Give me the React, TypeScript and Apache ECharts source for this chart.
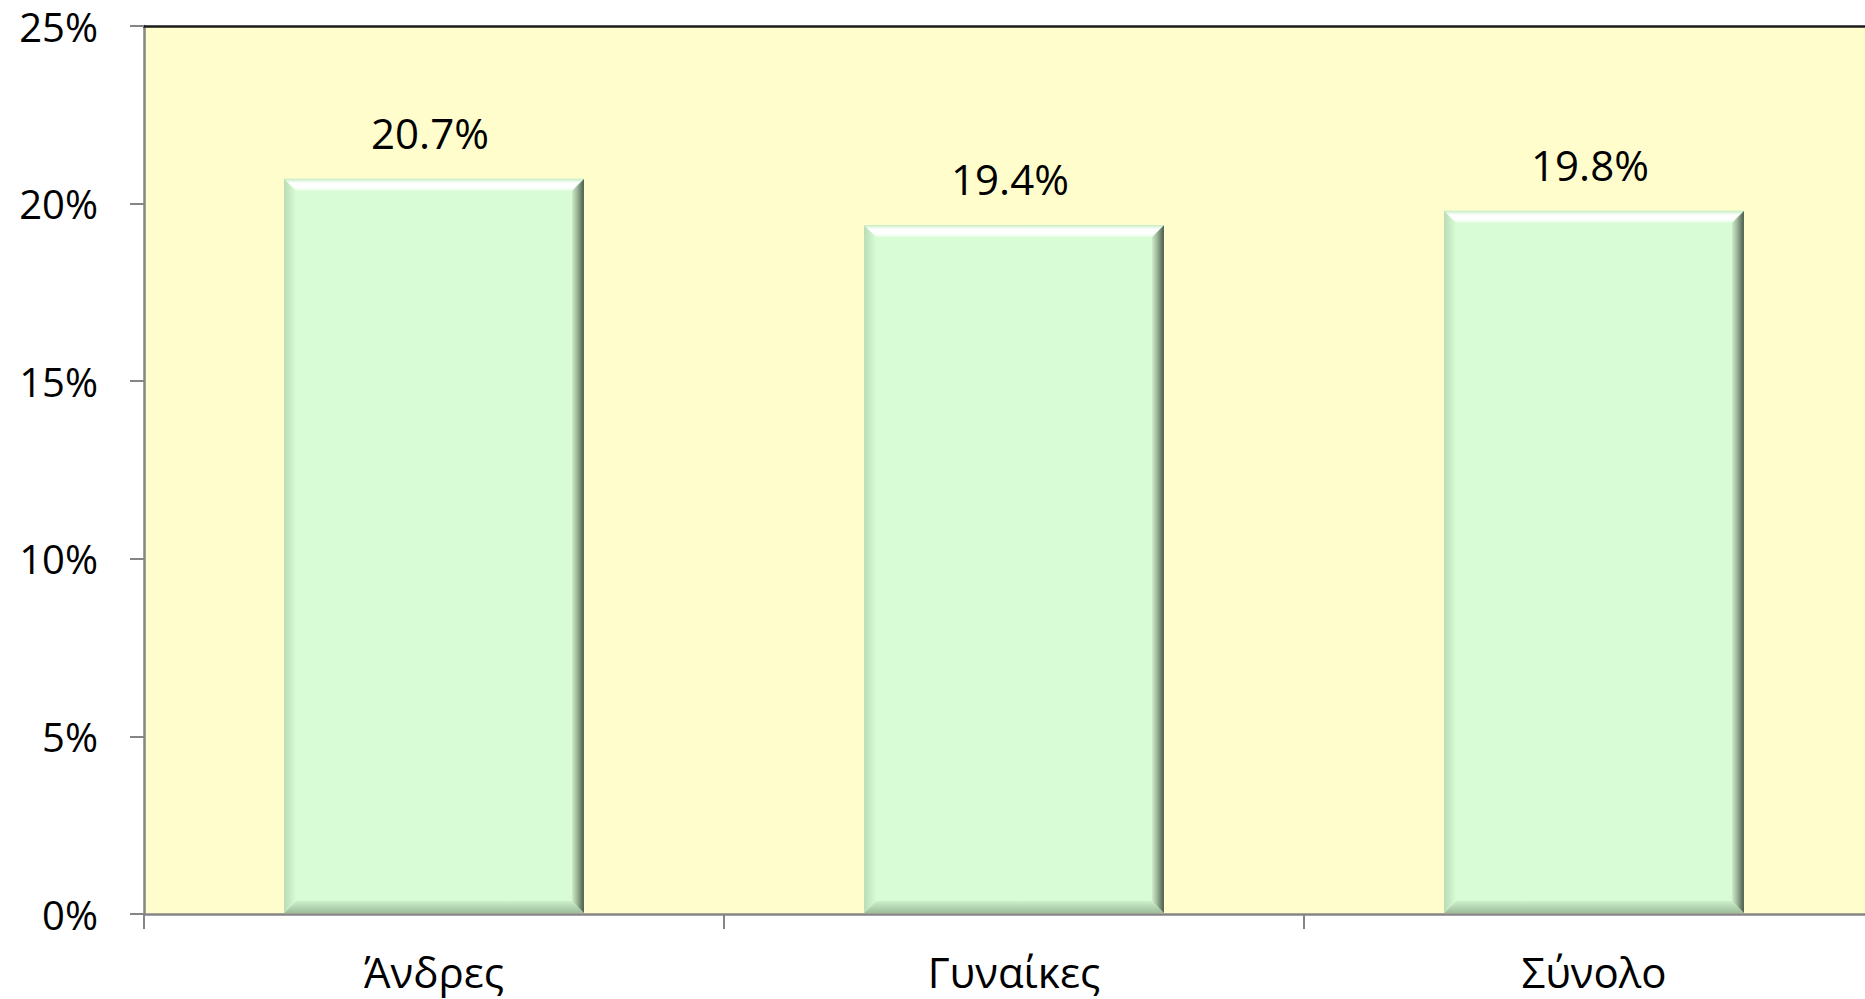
import React, { useEffect, useRef } from "react";
import * as echarts from "echarts";

const categories = ["Άνδρες", "Γυναίκες", "Σύνολο"];
const values = [20.7, 19.4, 19.8];
const yTicks = { min: 0, max: 25, interval: 5 };

const FONT = "'Open Sans', 'Noto Sans', sans-serif";

export default function App() {
  const ref = useRef<HTMLDivElement>(null);
  useEffect(() => {
    if (!ref.current) return;
    const chart = echarts.init(ref.current, null, { renderer: "svg" });
    const B = 12;
    const lin = (x1: number, y1: number, x2: number, y2: number, stops: [number, string][]) =>
      new echarts.graphic.LinearGradient(x1, y1, x2, y2, stops.map(([offset, color]) => ({ offset, color })));

    const renderItem = (params: any, api: any) => {
      const idx = api.value(0);
      const val = api.value(1);
      const top = api.coord([idx, val]);
      const bot = api.coord([idx, 0]);
      const w = api.size([1, 0])[0] * 0.517;
      const x0 = top[0] - w / 2;
      const x1 = top[0] + w / 2;
      const yt = top[1];
      const yb = bot[1] - 1;
      return {
        type: "group",
        children: [
          { type: "rect", shape: { x: x0, y: yt, width: w, height: yb - yt }, style: { fill: "#D8FDD6" } },
          {
            type: "polygon",
            shape: { points: [[x0, yb], [x1, yb], [x1 - B, yb - B], [x0 + B, yb - B]] },
            style: { fill: lin(0, 0, 0, 1, [[0, "#CDEFCA"], [1, "#9EBE9B"]]) },
          },
          {
            type: "polygon",
            shape: { points: [[x0, yt], [x0 + B, yt + B], [x0 + B, yb - B], [x0, yb]] },
            style: { fill: lin(0, 0, 1, 0, [[0, "#B9DCB5"], [1, "#D8FDD6"]]) },
          },
          {
            type: "polygon",
            shape: { points: [[x1, yt], [x1, yb], [x1 - B, yb - B], [x1 - B, yt + B]] },
            style: { fill: lin(0, 0, 1, 0, [[0, "#CFEECB"], [0.45, "#9AB597"], [1, "#4A5A4A"]]) },
          },
          {
            type: "polygon",
            shape: { points: [[x0, yt], [x1, yt], [x1 - B, yt + B], [x0 + B, yt + B]] },
            style: { fill: lin(0, 0, 0, 1, [[0, "#C5EDC2"], [0.35, "#FFFFFF"], [0.7, "#FFFFFF"], [1, "#E6FEE4"]]) },
          },
          {
            type: "text",
            style: {
              text: val.toFixed(1) + "%",
              x: top[0] - 4,
              y: yt - 25,
              align: "center",
              verticalAlign: "bottom",
              fontSize: 42,
              fontFamily: FONT,
              fill: "#000000",
            },
          },
        ],
      };
    };

    chart.setOption({
      animation: false,
      grid: {
        left: 144,
        top: 26,
        width: 1740,
        bottom: 85,
        containLabel: false,
        outerBoundsMode: "none",
        show: true,
        backgroundColor: "#FFFDCC",
        borderWidth: 0,
      },
      xAxis: [
        {
          type: "category",
          data: categories,
          position: "bottom",
          axisLine: { lineStyle: { color: "#858585", width: 2.5 } },
          axisTick: { show: true, length: 15, interval: 0, lineStyle: { color: "#858585", width: 2 } },
          axisLabel: { fontSize: 42, fontFamily: FONT, color: "#000", margin: 36, interval: 0 },
          splitLine: { show: false },
        },
        {
          type: "category",
          data: categories,
          position: "top",
          axisLine: { lineStyle: { color: "#1A1A1A", width: 2.5 } },
          axisTick: { show: false },
          axisLabel: { show: false },
        },
      ],
      yAxis: {
        type: "value",
        min: yTicks.min,
        max: yTicks.max,
        interval: yTicks.interval,
        axisLine: { show: true, lineStyle: { color: "#858585", width: 2.5 } },
        axisTick: { show: true, length: 14, lineStyle: { color: "#858585", width: 2 } },
        axisLabel: { fontSize: 40, fontFamily: FONT, color: "#000", margin: 46, formatter: "{value}%" },
        splitLine: { show: false },
      },
      series: [
        {
          type: "custom",
          renderItem,
          encode: { x: 0, y: 1 },
          data: values.map((v, i) => [i, v]),
          z: 3,
        },
      ],
    });
    return () => chart.dispose();
  }, []);
  return (
    <div
      ref={ref}
      style={{ position: "absolute", left: 0, top: 0, width: 1865, height: 999, background: "#fff" }}
    />
  );
}
